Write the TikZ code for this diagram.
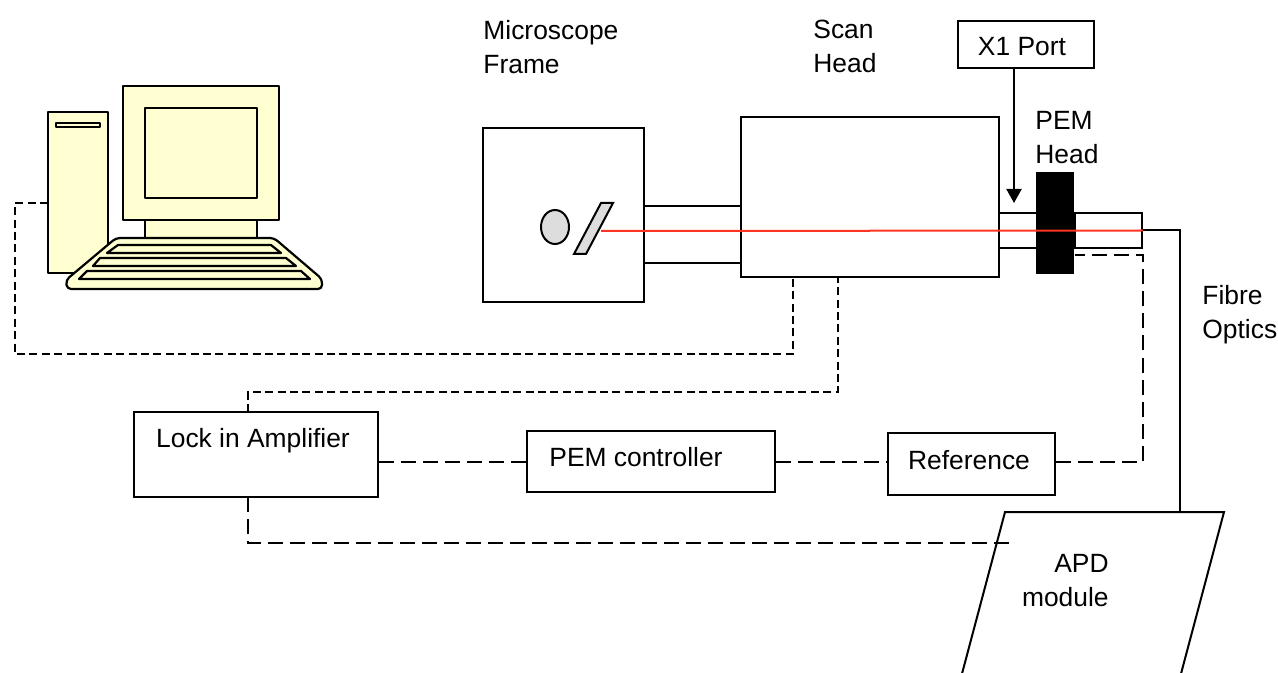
\documentclass[tikz,border=0pt]{standalone}
\usepackage{fontspec}
\setmainfont{Liberation Sans}
\usetikzlibrary{arrows.meta,shapes.geometric}
\definecolor{pcyellow}{HTML}{FFFFD2}
\definecolor{lensgrey}{HTML}{DDDDDD}
\definecolor{beamred}{HTML}{FF3322}

\begin{document}
\begin{tikzpicture}[x=0.5pt,y=-0.5pt,>={Triangle[length=7pt,width=7.5pt]},
    box/.style={draw,line width=1pt,inner sep=0pt},
    lbl/.style={inner sep=0pt,font=\fontsize{13.2}{17}\selectfont},
    pc/.style={draw,line width=1.1pt,fill=pcyellow,line join=round},
    shortdash/.style={line width=1pt,dash pattern=on 4pt off 2.2pt},
    longdash/.style={line width=1pt,dash pattern=on 7.5pt off 3.5pt}]
  \useasboundingbox (0,0) rectangle (1278,673);
  \fill[white] (0,0) rectangle (1278,673);

  % computer
  \draw[pc] (48,112) rectangle (108,273);
  \draw[pc] (56,123) rectangle (100,127);
  \draw[pc] (145,218) rectangle (257,238);
  \draw[pc] (123,86) rectangle (279,220);
  \draw[pc] (145,108) rectangle (257,198);
  \draw[pc,rounded corners=2pt] (116,238) -- (274,238) -- (322,279) -- (322,289) -- (67,289) -- (66,280) -- cycle;
  \draw[pc] (118,245) -- (271,245) -- (281,253) -- (107,253) -- cycle;
  \draw[pc] (100,258) -- (286,258) -- (296,266) -- (93,266) -- cycle;
  \draw[pc] (87,271) -- (301,271) -- (310,279) -- (79,279) -- cycle;
  \coordinate (pcport) at (48,203);

  % microscope, scan head and PEM head
  \node[box,minimum width=80.5pt,minimum height=87pt] (frame) at (563.5,215) {};
  \node[box,minimum width=48.5pt,minimum height=28.5pt] (tubeA) at (692.5,234.5) {};
  \node[box,minimum width=129pt,minimum height=80pt] (scan) at (870,197) {};
  \node[box,minimum width=19.5pt,minimum height=17.5pt] (tubeL) at (1018.5,230.5) {};
  \node[box,minimum width=33.5pt,minimum height=17.5pt] (tubeR) at (1108.5,230.5) {};
  \node[box,fill=black,minimum width=18pt,minimum height=50pt] (pem) at (1055,223) {};
  \node[draw,line width=1pt,fill=lensgrey,ellipse,minimum width=14pt,minimum height=17pt,inner sep=0pt] (lens) at (555,227) {};
  \draw[line width=1pt,fill=lensgrey] (574,254) -- (586,254) -- (613,203) -- (601,203) -- cycle;
  \coordinate (mirror) at (601,231);
  \coordinate (scanA) at (793,277);
  \coordinate (scanB) at (838,277);
  \coordinate (pemport) at (1075,255);

  \node[box,minimum width=68pt,minimum height=23.5pt] (x1port) at (1026,44.5) {};
  \node[lbl,anchor=base] (x1txt) at (1022,56) {X1 Port};
  \coordinate (x1tip) at (1014,203);
  \draw[->,line width=1pt] (x1port.south -| x1tip) -- (x1tip);

  \node[lbl,anchor=north west,align=left] (frametxt) at (483,20) {Microscope\\Frame};
  \node[lbl,anchor=north west,align=left] (scantxt) at (813,20) {Scan\\Head};
  \node[lbl,anchor=north west,align=left] (pemtxt) at (1035,111) {PEM\\Head};
  \node[lbl,anchor=north west,align=left] (fibretxt) at (1202,285) {Fibre\\Optics};

  % electronics
  \node[box,minimum width=122pt,minimum height=42.5pt] (lockin) at (256,454.5) {};
  \node[lbl,anchor=base] (lockintxt) at (253,447) {Lock in Amplifier};
  \node[box,minimum width=124pt,minimum height=30.5pt] (pemctl) at (651,461.5) {};
  \node[lbl,anchor=base west] (pemctltxt) at (549,466) {PEM controller};
  \node[box,minimum width=83.5pt,minimum height=31pt] (ref) at (971.5,464) {};
  \node[lbl,anchor=base] (reftxt) at (969,469) {Reference};
  \coordinate (lockA) at (248,412);
  \coordinate (lockB) at (248,497);

  % APD module
  \coordinate (apdA) at (955,700);
  \coordinate (apdB) at (1005,512);
  \coordinate (apdC) at (1224,512);
  \coordinate (apdD) at (1174,700);
  \coordinate (apdtop) at (1180,512);
  \coordinate (apdin) at (1012,543);
  \draw[line width=1pt] (apdA) -- (apdB) -- (apdC) -- (apdD);
  \node[lbl,anchor=north east,align=right] (apdtxt) at (1109,554) {APD\\module};

  % signal cables
  \draw[shortdash] (pcport) -| (15,354) -| (scanA);
  \draw[shortdash] (lockA) -- ++(0,-20) -| (scanB);
  \draw[longdash] (lockB) |- (apdin);
  \draw[longdash] (lockin.east |- pemctl.west) -- (pemctl.west);
  \draw[longdash] (pemctl.east) -- (pemctl.east -| ref.west);
  \draw[longdash] (ref.east |- pemctl.east) -| (tubeR.east |- pemport) -- (pemport);

  % fibre and beam
  \draw[line width=1pt] (tubeR.east) -| (apdtop);
  \draw[beamred,line width=1pt] (mirror) -- (tubeR.east);
\end{tikzpicture}
\end{document}
